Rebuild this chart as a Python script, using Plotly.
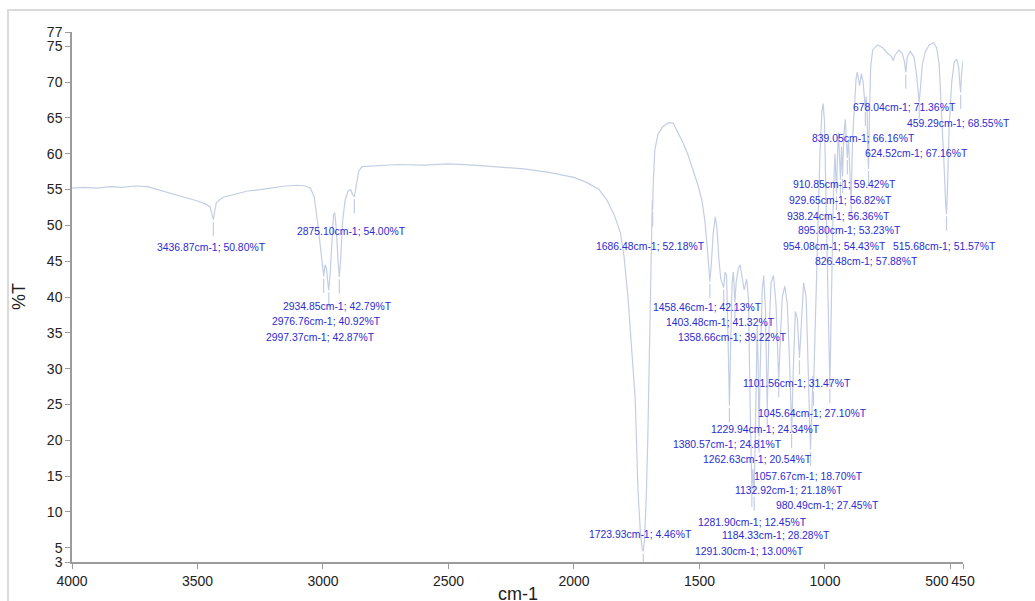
import plotly.graph_objects as go

# ---- spectrum (wavenumber cm-1, %T) ----
wavenumber = [
    4000, 3950, 3900, 3850, 3800, 3750, 3700, 3660, 3620, 3580, 3540, 3500, 3470, 3450,
    3442, 3437, 3432, 3425, 3400, 3350, 3300, 3250, 3200, 3150, 3100, 3070, 3050, 3035,
    3020, 3010, 3003, 2997, 2992, 2986, 2980, 2977, 2972, 2965, 2958, 2953, 2947, 2940,
    2935, 2930, 2922, 2912, 2900, 2890, 2882, 2875, 2868, 2858, 2845, 2800, 2700, 2600,
    2500, 2400, 2300, 2200, 2100, 2000, 1950, 1900, 1870, 1840, 1815, 1800, 1785, 1770,
    1756, 1745, 1735, 1728, 1724, 1719, 1712, 1706, 1700, 1694, 1690, 1688, 1686.5, 1684,
    1678, 1665, 1645, 1625, 1605, 1585, 1565, 1545, 1525, 1505, 1490, 1478, 1468, 1462,
    1458.5, 1453, 1445, 1437, 1430, 1422, 1415, 1408, 1403.5, 1398, 1392, 1386, 1380.6,
    1376, 1370, 1365, 1361, 1358.7, 1354, 1345, 1338, 1330, 1322, 1312, 1305, 1298,
    1291.3, 1287, 1281.9, 1276, 1270, 1266, 1262.6, 1258, 1250, 1244, 1237, 1229.9,
    1223, 1215, 1205, 1195, 1189, 1184.3, 1178, 1170, 1160, 1150, 1140, 1132.9, 1126,
    1118, 1110, 1105, 1101.6, 1096, 1085, 1075, 1065, 1057.7, 1052, 1048, 1045.6, 1040,
    1030, 1020, 1012, 1007, 1002, 995, 988, 980.5, 974, 966, 960, 957, 954.1, 950, 946,
    941.5, 938.2, 934, 931.5, 929.7, 925, 919, 915, 910.9, 906, 901, 895.8, 890, 884,
    876, 871, 862, 855, 848, 842, 839, 836, 832, 829, 826.5, 823, 818, 810, 790, 770,
    750, 735, 728, 720, 705, 692, 684, 678, 672, 660, 645, 635, 628, 624.5, 620, 612,
    600, 585, 568, 555, 545, 535, 525, 519, 515.7, 512, 505, 495, 485, 475, 467, 462,
    459.3, 456, 452, 450,
]
transmittance = [
    55.2, 55.3, 55.2, 55.4, 55.3, 55.5, 55.4, 55.0, 54.6, 54.3, 53.8, 53.4, 53.0, 52.6,
    51.5, 50.8, 51.8, 53.2, 53.9, 54.4, 54.8, 55.0, 55.3, 55.5, 55.6, 55.5, 55.2, 54.0,
    50.0, 46.5, 44.0, 42.87, 44.5, 44.0, 41.8, 40.92, 43.0, 48.0, 51.5, 51.8, 49.5, 45.0,
    42.79, 45.0, 50.5, 53.5, 54.8, 55.0, 54.3, 54.0, 55.5, 57.5, 58.2, 58.3, 58.5, 58.4,
    58.6, 58.4, 58.2, 57.9, 57.4, 56.7, 56.0, 55.0, 53.6, 51.5, 49.0, 45.5, 40.0, 33.0,
    25.8, 13.0, 7.0, 4.8, 4.46, 6.0, 12.0, 20.0, 32.0, 44.0, 50.0, 53.5, 52.18, 56.0,
    60.5, 62.8, 63.8, 64.3, 64.3, 63.0, 61.5, 59.8, 57.8, 55.5, 53.5, 50.5, 46.5, 43.5,
    42.13, 44.5, 49.0, 51.2, 49.5, 45.0, 42.5, 41.8, 41.32, 43.5, 43.0, 34.0, 24.81,
    33.0, 42.0, 43.5, 41.0, 39.22, 42.0, 44.0, 44.5, 43.0, 41.0, 42.5, 40.0, 25.0,
    13.0, 16.0, 12.45, 24.0, 36.0, 30.0, 20.54, 30.0, 41.0, 43.0, 38.0, 24.34,
    35.0, 42.0, 43.0, 39.0, 33.0, 28.28, 34.0, 40.0, 41.5, 39.0, 30.0, 21.18, 30.0,
    38.0, 37.0, 33.0, 31.47, 35.0, 42.0, 40.0, 28.0, 18.70, 24.0, 29.0, 27.10, 35.0,
    48.0, 60.0, 66.0, 67.0, 64.5, 52.0, 38.0, 27.45, 40.0, 55.0, 60.0, 57.0, 54.43, 60.0, 63.0,
    59.0, 56.36, 61.0, 58.5, 56.82, 62.5, 64.8, 62.0, 59.42, 62.0, 58.0, 53.23, 62.0, 66.0,
    70.5, 71.4, 69.5, 71.2, 70.0, 67.5, 66.16, 68.0, 66.0, 60.0, 57.88, 65.0, 72.0, 74.5, 75.2, 74.8,
    74.0, 73.6, 73.0, 73.8, 74.5, 74.0, 73.0, 71.36, 73.5, 74.3, 73.5, 71.0, 68.0, 67.16, 69.0, 72.5,
    74.2, 75.2, 75.5, 74.8, 72.5, 66.0, 58.0, 53.0, 51.57, 55.0, 64.0, 70.0, 72.8, 73.2, 72.0, 69.5,
    68.55, 71.0, 73.0, 73.0,
]

# ---- labelled peaks ----
peak_wn = [3436.87, 2875.10, 2934.85, 2976.76, 2997.37, 1686.48, 1458.46, 1403.48,
           1358.66, 1723.93, 1101.56, 1045.64, 1229.94, 1380.57, 1262.63, 1057.67,
           1132.92, 980.49, 1281.90, 1184.33, 1291.30, 678.04, 459.29, 839.05,
           624.52, 910.85, 929.65, 938.24, 895.80, 954.08, 515.68, 826.48]
peak_t = [50.80, 54.00, 42.79, 40.92, 42.87, 52.18, 42.13, 41.32,
          39.22, 4.46, 31.47, 27.10, 24.34, 24.81, 20.54, 18.70,
          21.18, 27.45, 12.45, 28.28, 13.00, 71.36, 68.55, 66.16,
          67.16, 59.42, 56.82, 56.36, 53.23, 54.43, 51.57, 57.88]
# label anchor positions (data coordinates)
label_x = [3446, 2888, 2944, 2988, 3008, 1696, 1469, 1417,
           1369, 1736, 1110, 1050, 1238, 1389, 1270, 1066,
           1142, 991, 1290, 1194, 1302, 684, 469, 847,
           636, 923, 939, 947, 903, 963, 524, 835]
label_y = [46.95, 49.17, 38.74, 36.52, 34.29, 47.09, 38.6, 36.38,
           34.29, 6.89, 27.9, 23.72, 21.5, 19.41, 17.32, 14.96,
           13.01, 10.93, 8.56, 6.75, 4.53, 66.42, 64.2, 62.11,
           60.02, 55.71, 53.49, 51.2, 49.3, 47.09, 47.09, 45.0]

x_ticks = [4000, 3500, 3000, 2500, 2000, 1500, 1000, 500, 450]
y_ticks = [3, 5, 10, 15, 20, 25, 30, 35, 40, 45, 50, 55, 60, 65, 70, 75, 77]

LINE_COLOR = "#c3cee4"
LABEL_COLOR = "#2c2cd2"
AXIS_COLOR = "#9b9b9b"
FONT = "Liberation Sans, Arial, sans-serif"

fig = go.Figure()
fig.add_trace(go.Scatter(x=wavenumber, y=transmittance, mode="lines",
                         line=dict(color=LINE_COLOR, width=1.2), hoverinfo="skip",
                         showlegend=False))

# short marker lines below each labelled peak
mx, my = [], []
for w, t in zip(peak_wn, peak_t):
    mx += [w, w, None]
    my += [t - 0.3, t - 2.3, None]
fig.add_trace(go.Scatter(x=mx, y=my, mode="lines",
                         line=dict(color=LINE_COLOR, width=1.2), hoverinfo="skip",
                         showlegend=False))

for w, t, lx, ly in zip(peak_wn, peak_t, label_x, label_y):
    fig.add_annotation(x=lx, y=ly, xref="x", yref="y",
                       text=f"{w:.2f}cm-1; {t:.2f}%T", showarrow=False,
                       xanchor="center", yanchor="middle",
                       font=dict(family=FONT, size=10.4, color=LABEL_COLOR))

# axis titles
fig.add_annotation(x=0.5, y=0, xref="paper", yref="paper", yshift=-32,
                   text="cm-1", showarrow=False, xanchor="center", yanchor="middle",
                   font=dict(family=FONT, size=18, color="#222222"))
fig.add_annotation(x=0, y=0.5, xref="paper", yref="paper", xshift=-53,
                   text="%T", textangle=-90, showarrow=False,
                   xanchor="center", yanchor="middle",
                   font=dict(family=FONT, size=18, color="#222222"))

# light gray frame around the chart (only top and left edges visible)
fig.add_shape(type="rect", xref="paper", yref="paper",
              x0=-0.0718, x1=1.2, y0=-0.2, y1=1.0414,
              line=dict(color="#dadada", width=2), fillcolor="rgba(0,0,0,0)", layer="below")

# x tick labels: "500" nudged left so it sits next to "450" as in the original
x_ticktext = []
for v in x_ticks:
    if v == 500:
        x_ticktext.append(str(v) + "\u00a0" * 7)
    else:
        x_ticktext.append(str(v))

fig.update_layout(
    width=1035, height=601,
    margin=dict(l=72, r=72, t=32, b=37),
    paper_bgcolor="white", plot_bgcolor="white",
    font=dict(family=FONT, size=14, color="#222222"),
    showlegend=False,
)
fig.update_xaxes(range=[4000, 450], tickvals=x_ticks, ticktext=x_ticktext,
                 tickangle=0,
                 showgrid=False, zeroline=False, showline=True,
                 linecolor=AXIS_COLOR, linewidth=1.5,
                 ticks="outside", ticklen=5, tickcolor=AXIS_COLOR, tickwidth=1,
                 tickfont=dict(family=FONT, size=14, color="#222222"))
fig.update_yaxes(range=[3, 77], tickvals=y_ticks,
                 ticktext=[str(v) for v in y_ticks],
                 showgrid=False, zeroline=False, showline=True,
                 linecolor=AXIS_COLOR, linewidth=1.5,
                 ticks="outside", ticklen=5, tickcolor=AXIS_COLOR, tickwidth=1,
                 tickfont=dict(family=FONT, size=14, color="#222222"))

fig.write_html("out.html")
